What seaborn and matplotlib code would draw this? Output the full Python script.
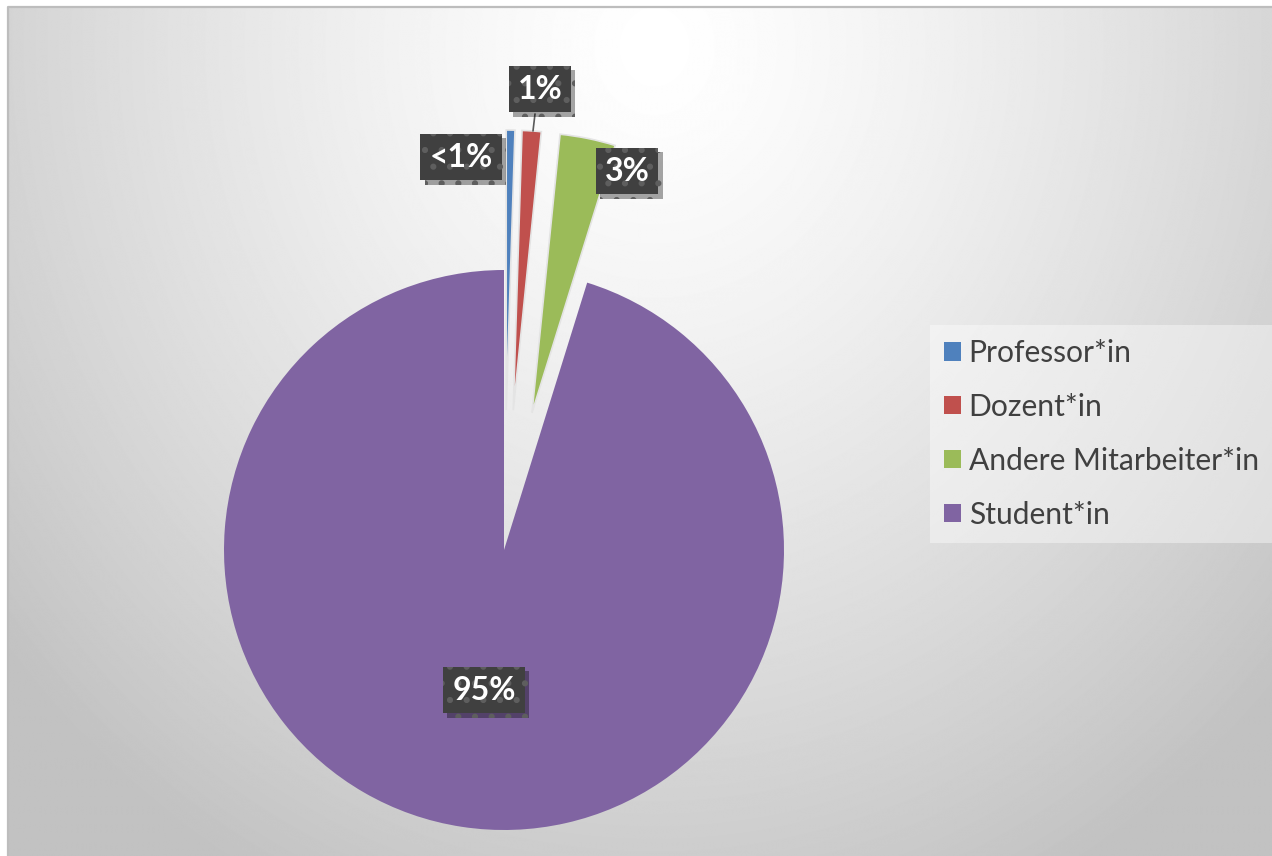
import numpy as np
import matplotlib
matplotlib.use("Agg")
import matplotlib.pyplot as plt
import matplotlib.patheffects as pe
import seaborn as sns

# data
categories = ["Professor*in", "Dozent*in", "Andere Mitarbeiter*in", "Student*in"]
shares = [0.5, 1.1, 3.2, 95.2]
label_texts = ["<1%", "1%", "3%", "95%"]
slice_colors = ["#4f81bd", "#c0504d", "#9bbb59", "#8064a2"]
explode_frac = [0.5, 0.5, 0.5, 0.0]

sns.set_theme(style="white")
plt.rcParams["font.family"] = ["Lato", "DejaVu Sans"]
plt.rcParams["hatch.linewidth"] = 2.0

W, H = 1272, 856
R = 280
fig = plt.figure(figsize=(W / 100, H / 100), dpi=100, facecolor="white")
ax = fig.add_axes([0, 0, 1, 1])

# radial grey background of the chart area
yy, xx = np.mgrid[0:H, 0:W]
d = np.hypot((xx - 650) / 850, (yy - 40) / 950)
shade = 1 - 0.24 * np.clip(d, 0, 1) ** 1.3
ax.imshow(shade, cmap="gray", vmin=0, vmax=1, extent=(8, W, 0, H - 7),
          origin="upper", zorder=0, aspect="auto", interpolation="bilinear")
ax.plot([8, 8, W], [0, H - 7, H - 7], color="#bdbdbd", lw=1.6, zorder=1,
        solid_capstyle="butt")

palette = sns.color_palette(slice_colors)
wedges, _ = ax.pie(shares, colors=palette, startangle=90, counterclock=False,
                   explode=[e * R for e in explode_frac], center=(504, H - 550), radius=R,
                   wedgeprops=dict(edgecolor="#e4e4e4", linewidth=1.2, zorder=2))
wedges[-1].set_linewidth(0)

# data labels (pixel positions, measured from top)
label_pos = [(461, 157), (540, 89), (627, 171), (484, 690)]
for txt, (px, py) in zip(label_texts, label_pos):
    t = ax.text(px, H - py, txt, ha="center", va="center", color="white",
                fontsize=23, fontweight="bold", zorder=5,
                bbox=dict(boxstyle="square,pad=0.28", facecolor="#404040",
                          edgecolor="#5e5e5e", linewidth=0, hatch="."))
    t.get_bbox_patch().set_path_effects(
        [pe.SimplePatchShadow(offset=(3, -3), shadow_rgbFace="black", alpha=0.35),
         pe.Normal()])

# leader line for the Dozent label
ax.plot([535, 533], [H - 114, H - 131], color="#595959", lw=1.2, zorder=4)

ax.set_xlim(0, W)
ax.set_ylim(0, H)
ax.set_aspect("auto")
ax.axis("off")

leg = ax.legend(wedges, categories, loc="upper left", mode="expand",
                bbox_to_anchor=(930 / W, 1 - 543 / H, (W - 930) / W, 218 / H),
                bbox_transform=fig.transFigure,
                borderaxespad=0, fontsize=21.6, frameon=True, fancybox=False,
                handlelength=0.56, handleheight=0.56, handletextpad=0.26,
                labelspacing=0.86, borderpad=0.47)
leg.get_frame().set_facecolor("white")
leg.get_frame().set_alpha(0.4)
leg.get_frame().set_edgecolor("none")
for tx in leg.get_texts():
    tx.set_color("#404040")
for h in leg.legend_handles:
    h.set_edgecolor("none")

fig.savefig("out.png", dpi=100, facecolor="white")
